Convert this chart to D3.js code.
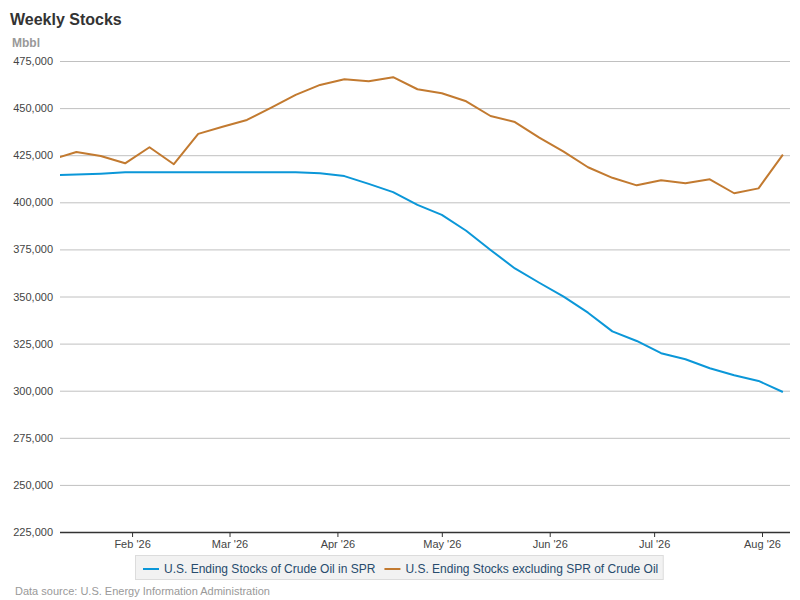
<!DOCTYPE html>
<html>
<head>
<meta charset="utf-8">
<script src="https://cdn.jsdelivr.net/npm/d3@7"></script>
<style>
  html, body { margin: 0; padding: 0; background: #fff; }
  svg { display: block; font-family: "Liberation Sans", Arial, sans-serif; }
</style>
</head>
<body>
<svg id="chart" width="800" height="600"></svg>
<script>
// Week-ending dates (weekly, Fridays)
const dates = ["2026-01-09","2026-01-16","2026-01-23","2026-01-30","2026-02-06","2026-02-13","2026-02-20","2026-02-27",
  "2026-03-06","2026-03-13","2026-03-20","2026-03-27","2026-04-03","2026-04-10","2026-04-17","2026-04-24",
  "2026-05-01","2026-05-08","2026-05-15","2026-05-22","2026-05-29","2026-06-05","2026-06-12","2026-06-19",
  "2026-06-26","2026-07-03","2026-07-10","2026-07-17","2026-07-24","2026-07-31","2026-08-07"];
// U.S. Ending Stocks of Crude Oil in SPR (Mbbl)
const sprValues = [414300,414700,415200,415900,415900,415900,415900,415900,
  415900,415900,415900,415400,413900,409800,405400,398600,
  393300,384900,374700,364900,357300,349900,341400,331500,
  326400,319900,316700,311900,308200,305200,299300];
// U.S. Ending Stocks excluding SPR of Crude Oil (Mbbl)
const exSprValues = [422700,426700,424600,420700,429200,420200,436300,440100,
  443700,450300,457000,462300,465300,464300,466400,460000,
  457900,453600,445800,442600,434300,426900,418600,413000,
  409000,411700,410100,412200,404800,407400,425300];
const yTicks = [225000,250000,275000,300000,325000,350000,375000,400000,425000,450000,475000];
const xTickDates = ["2026-02-01","2026-03-01","2026-04-01","2026-05-01","2026-06-01","2026-07-01","2026-08-01"];
const seriesNames = ["U.S. Ending Stocks of Crude Oil in SPR","U.S. Ending Stocks excluding SPR of Crude Oil"];
const seriesColors = ["#0b97d8","#c27a30"];

(function () {
const parse = d3.utcParse("%Y-%m-%d");
const svg = d3.select("#chart");
const mLeft = 60, mRight = 790, mTop = 61, mBottom = 532;

const x = d3.scaleUtc()
  .domain([new Date(Date.UTC(2026,0,11,7)), new Date(Date.UTC(2026,7,9,1))])
  .range([mLeft, mRight]);
const y = d3.scaleLinear().domain([225000, 475000]).range([mBottom, mTop]);

// title
svg.append("text").attr("x", 10).attr("y", 25)
  .attr("font-size", 16).attr("font-weight", "bold").attr("fill", "#333")
  .text("Weekly Stocks");
svg.append("text").attr("x", 12).attr("y", 47)
  .attr("font-size", 12).attr("font-weight", "bold").attr("fill", "#999")
  .text("Mbbl");

// gridlines
const yAxis = d3.axisLeft(y).tickValues(yTicks).tickSize(-(mRight - mLeft)).tickPadding(7)
  .tickFormat(d3.format(","));
const gy = svg.append("g").attr("transform", `translate(${mLeft},0)`).call(yAxis);
gy.select(".domain").remove();
gy.selectAll(".tick line").attr("stroke", "#c0c0c0").attr("stroke-width", 1);
gy.selectAll(".tick text").attr("font-size", 11).attr("fill", "#444")
  .attr("font-family", "Liberation Sans, Arial, sans-serif");

// x axis
const xAxis = d3.axisBottom(x).tickValues(xTickDates.map(parse)).tickSize(5).tickPadding(3)
  .tickFormat(d => d3.utcFormat("%b '%y")(d));
const gx = svg.append("g").attr("transform", `translate(0,${mBottom})`).call(xAxis);
gx.select(".domain").attr("d", `M${mLeft},0.5H${mRight}`).attr("stroke", "#333").attr("stroke-width", 1.5);
gx.selectAll(".tick line").attr("stroke", "#333");
gx.selectAll(".tick text").attr("font-size", 11).attr("fill", "#444")
  .attr("font-family", "Liberation Sans, Arial, sans-serif");

// clip
svg.append("clipPath").attr("id", "plotclip").append("rect")
  .attr("x", mLeft).attr("y", mTop - 5).attr("width", mRight - mLeft).attr("height", mBottom - mTop + 5);

const line = d3.line().x(d => x(d[0])).y(d => y(d[1]));
const series = [sprValues, exSprValues];
const plot = svg.append("g").attr("clip-path", "url(#plotclip)");
series.forEach((vals, i) => {
  plot.append("path")
    .datum(dates.map((d, j) => [parse(d), vals[j]]))
    .attr("fill", "none")
    .attr("stroke", seriesColors[i])
    .attr("stroke-width", 2)
    .attr("stroke-linejoin", "round")
    .attr("d", line);
});

// legend
const lg = svg.append("g");
const lgRect = lg.append("rect").attr("x", 135.5).attr("y", 555.5).attr("height", 24)
  .attr("fill", "#f2f2f2").attr("stroke", "#dcdcdc");
let cx = 143;
seriesNames.forEach((name, i) => {
  lg.append("line").attr("x1", cx).attr("x2", cx + 16).attr("y1", 569).attr("y2", 569)
    .attr("stroke", seriesColors[i]).attr("stroke-width", 2);
  const t = lg.append("text").attr("x", cx + 21).attr("y", 573)
    .attr("font-size", 12).attr("fill", "#274b6d").text(name);
  const w = t.node().getComputedTextLength();
  cx = cx + 21 + w + 9;
});
lgRect.attr("width", cx - 9 + 5 - 135.5);

// source
svg.append("text").attr("x", 15).attr("y", 595)
  .attr("font-size", 11).attr("fill", "#999")
  .text("Data source: U.S. Energy Information Administration");
})();
</script>
</body>
</html>
